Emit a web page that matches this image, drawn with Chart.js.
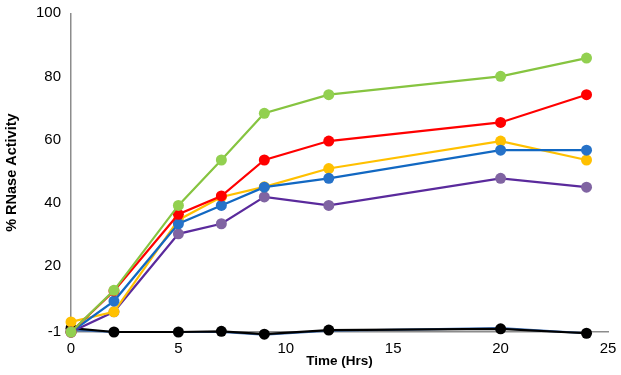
<!DOCTYPE html>
<html><head><meta charset="utf-8">
<script src="https://cdn.jsdelivr.net/npm/chart.js@4.4.1/dist/chart.umd.min.js"></script>
<style>html,body{margin:0;padding:0;background:#fff}#wrap{width:621px;height:375px}</style>
</head><body><div id="wrap"><canvas id="c" width="621" height="375"></canvas></div>
<script>
const times = [0, 2, 5, 7, 9, 12, 20, 24];
const greenVals  = [-1, 12.2, 39.1, 53.5, 68.3, 74.2, 80.0, 85.8];
const redVals    = [-1, 12.0, 36.3, 42.1, 53.5, 59.5, 65.4, 74.2];
const yellowVals = [2.2, 5.4, 34.5, 41.8, 45.0, 50.8, 59.5, 53.5];
const blueVals   = [-1, 8.8, 33.3, 39.1, 44.9, 47.7, 56.6, 56.6];
const purpleVals = [-1, 5.4, 30.1, 33.3, 41.8, 39.1, 47.7, 44.9];
const blackVals  = [0.2, -1, -1, -0.8, -1.7, -0.4, 0.0, -1.4];
const lowBlueVals = [-0.3, -1, -1, -1, -1.8, -0.6, 0.2, -1.4];
const xTicks = [0, 5, 10, 15, 20, 25];
const yTicks = [-1, 20, 40, 60, 80, 100];

const pts = vals => vals.map((v, i) => ({x: times[i], y: v}));
function ds(label, vals, line, marker, order, radius) {
  return {label, data: pts(vals), borderColor: line, backgroundColor: marker,
    pointBackgroundColor: marker, pointBorderColor: marker, pointRadius: radius,
    pointBorderWidth: 0, borderWidth: 2.2, tension: 0, order, clip: false};
}
const font = {family: "'Liberation Sans', Arial, sans-serif", size: 15};
new Chart(document.getElementById('c'), {
  type: 'line',
  data: {datasets: [
    ds('Green', greenVals, '#86c440', '#92D050', 0, 5.5),
    ds('Red', redVals, '#FF0000', '#FF0000', 1, 5.5),
    ds('Blue', blueVals, '#1268c2', '#2672c8', 2, 5.5),
    ds('Yellow', yellowVals, '#FFC000', '#FFC000', 3, 5.5),
    ds('Purple', purpleVals, '#5a2a9c', '#8064A2', 4, 5.5),
    ds('Black', blackVals, '#000000', '#000000', 5, 5.5),
    ds('Low blue', lowBlueVals, '#3d6fb8', '#3d6fb8', 6, 0)
  ]},
  options: {
    responsive: false, animation: false,
    layout: {padding: {left: 0, right: 13, top: 0, bottom: 0}},
    plugins: {legend: {display: false}, tooltip: {enabled: false}},
    scales: {
      x: {type: 'linear', min: 0, max: 25,
        afterBuildTicks: s => { s.ticks = xTicks.map(v => ({value: v})); },
        afterFit: s => { s.height = 43; },
        grid: {display: false, drawTicks: true, tickLength: 5, color: '#8c8c8c'},
        border: {color: '#8c8c8c', width: 1.5},
        ticks: {color: '#000', font, padding: 3, maxRotation: 0},
        title: {display: true, text: 'Time (Hrs)', color: '#000',
          font: {family: font.family, size: 13.5, weight: 'bold'}, padding: {top: 0, bottom: 6}}
      },
      y: {type: 'linear', min: -1, max: 100,
        afterBuildTicks: s => { s.ticks = yTicks.map(v => ({value: v})); },
        afterFit: s => { s.width = 71; },
        grid: {display: false, drawTicks: true, tickLength: 5, color: '#8c8c8c'},
        border: {color: '#8c8c8c', width: 1.5},
        ticks: {color: '#000', font: {family: font.family, size: 15, lineHeight: 1.1}, padding: 5},
        title: {display: true, text: '% RNase Activity', color: '#000',
          font: {family: font.family, size: 14.5, weight: 'bold'}, padding: {top: 3, bottom: 0}}
      }
    }
  }
});
</script></body></html>
